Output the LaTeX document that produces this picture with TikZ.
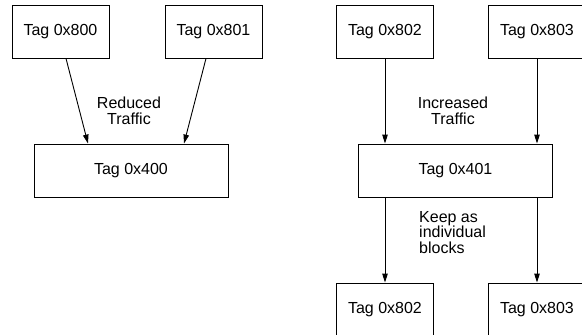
\documentclass[tikz,border=0pt]{standalone}
\usepackage{fontspec}
\setmainfont{Liberation Sans}
\usetikzlibrary{arrows.meta, positioning}

\tikzset{
  tagbox/.style={draw, line width=0.9pt, minimum width=97pt, minimum height=53pt, inner sep=0pt},
  bigbox/.style={tagbox, minimum width=194pt},
  flow/.style={line width=0.9pt, -{Triangle[length=9pt, width=5.5pt]}},
  note/.style={align=center, inner sep=0pt}
}

\begin{document}
\begin{tikzpicture}[x=1pt, y=-1pt, font=\fontsize{16}{15.5}\selectfont]
  \useasboundingbox (0,0) rectangle (582,335);
  \clip (0,0) rectangle (582,335);

  % reduced traffic side
  \node[tagbox] (t800) at (60.5,31.5) {Tag 0x800};
  \node[tagbox] (t801) at (213.5,31.5) {Tag 0x801};
  \node[bigbox] (t400) at (131,170.5) {Tag 0x400};
  \draw[flow] ([xshift=5.5pt]t800.south) -- ([xshift=-43pt]t400.north);
  \draw[flow] ([xshift=-7.5pt]t801.south) -- ([xshift=53pt]t400.north);
  \node[note] (reduced) at (129,111) {Reduced\\Traffic};

  % increased traffic side
  \node[tagbox] (t802) at (385,31.5) {Tag 0x802};
  \node[tagbox] (t803) at (537,31.5) {Tag 0x803};
  \node[bigbox] (t401) at (455.5,170.5) {Tag 0x401};
  \draw[flow] (t802.south) -- ([xshift=-70.5pt]t401.north);
  \draw[flow] (t803.south) -- ([xshift=81.5pt]t401.north);
  \node[note] (increased) at (453,111) {Increased\\Traffic};

  % split again
  \node[tagbox] (t802b) at (385,309.5) {Tag 0x802};
  \node[tagbox] (t803b) at (537,309.5) {Tag 0x803};
  \draw[flow] ([xshift=-70.5pt]t401.south) -- (t802b.north);
  \draw[flow] ([xshift=81.5pt]t401.south) -- (t803b.north);
  \node[note, align=left, anchor=north west] (keep) at (419,211) {Keep as\\individual\\blocks};
\end{tikzpicture}
\end{document}
